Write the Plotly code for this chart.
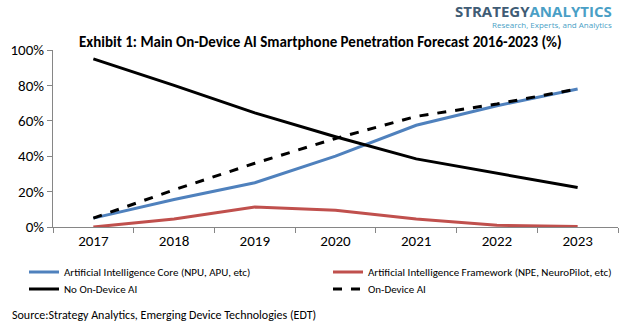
import plotly.graph_objects as go

years = ["2017", "2018", "2019", "2020", "2021", "2022", "2023"]
ai_core = [0.05, 0.155, 0.25, 0.40, 0.575, 0.685, 0.78]
ai_framework = [0.0, 0.045, 0.113, 0.095, 0.045, 0.01, 0.003]
no_ai = [0.95, 0.80, 0.645, 0.51, 0.385, 0.305, 0.223]
on_device = [0.05, 0.21, 0.36, 0.50, 0.625, 0.695, 0.78]

y_ticks = [0, 0.2, 0.4, 0.6, 0.8, 1.0]
y_tick_text = ["0%", "20%", "40%", "60%", "80%", "100%"]

FONT = "Carlito, 'Liberation Sans Narrow', 'Open Sans', sans-serif"
W, H = 625, 329
PW, PH, L, T = 565, 177, 53, 50

fig = go.Figure()
fig.add_trace(go.Scatter(x=years, y=ai_core, mode="lines", name="Artificial Intelligence Core (NPU, APU, etc)",
                         line=dict(color="#4f81bd", width=3), legend="legend"))
fig.add_trace(go.Scatter(x=years, y=ai_framework, mode="lines", name="Artificial Intelligence Framework (NPE, NeuroPilot, etc)",
                         line=dict(color="#c0504d", width=3), legend="legend2"))
fig.add_trace(go.Scatter(x=years, y=no_ai, mode="lines", name="No On-Device AI",
                         line=dict(color="#000000", width=3), legend="legend3"))
fig.add_trace(go.Scatter(x=years, y=on_device, mode="lines", name="On-Device AI",
                         line=dict(color="#000000", width=3, dash="dash"), legend="legend4"))

leg_common = dict(orientation="v", xref="container", yref="container",
                  xanchor="left", yanchor="middle",
                  font=dict(family=FONT, size=11, color="#000000"), bgcolor="rgba(0,0,0,0)",
                  itemwidth=30)

fig.update_layout(
    width=W, height=H,
    margin=dict(l=L, r=7, t=T, b=102, autoexpand=False),
    paper_bgcolor="white", plot_bgcolor="white",
    font=dict(family=FONT, size=14, color="#000000"),
    showlegend=True,
    legend=dict(x=24 / W, y=1 - 272 / H, **leg_common),
    legend2=dict(x=328 / W, y=1 - 272 / H, **leg_common),
    legend3=dict(x=24 / W, y=1 - 289 / H, **leg_common),
    legend4=dict(x=328 / W, y=1 - 289 / H, **leg_common),
    xaxis=dict(type="category", showgrid=False, showline=True, linecolor="#868686", linewidth=1,
               ticks="outside", ticklen=5, tickcolor="#868686", tickson="boundaries", automargin=False,
               tickfont=dict(family=FONT, size=15, color="#000000"), range=[-0.5, 6.5]),
    yaxis=dict(range=[0, 1.0], tickvals=y_ticks, ticktext=y_tick_text, showgrid=False, automargin=False,
               showline=True, linecolor="#868686", linewidth=1, ticks="outside", ticklen=5,
               tickcolor="#868686", tickfont=dict(family=FONT, size=15, color="#000000"),
               zeroline=False),
)

annotations = [
    dict(text="<b>Exhibit 1: Main On-Device AI Smartphone Penetration Forecast 2016-2023 (%)</b>",
         xref="paper", yref="paper", x=(77 - L) / PW, y=1 + (T - 42) / PH, xanchor="left", yanchor="middle",
         showarrow=False, font=dict(family=FONT, size=15, color="#000000")),
    dict(text="<b><span style='color:#3f5c75'>STRATEGY</span><span style='color:#4a9fc6'>ANALYTICS</span></b>",
         xref="paper", yref="paper", x=(614 - L) / PW, y=1 + (T - 11) / PH, xanchor="right", yanchor="middle",
         showarrow=False, font=dict(family="'Open Sans', sans-serif", size=15)),
    dict(text="Research, Experts, and Analytics",
         xref="paper", yref="paper", x=(614 - L) / PW, y=1 + (T - 24) / PH, xanchor="right", yanchor="middle",
         showarrow=False, font=dict(family="'Open Sans', sans-serif", size=8, color="#4a9fc6")),
    dict(text="Source:Strategy Analytics, Emerging Device Technologies (EDT)",
         xref="paper", yref="paper", x=(10 - L) / PW, y=-(315 - 227) / PH, xanchor="left", yanchor="middle",
         showarrow=False, font=dict(family=FONT, size=12, color="#000000")),
]
fig.update_layout(annotations=annotations)

fig.write_html("out.html")
